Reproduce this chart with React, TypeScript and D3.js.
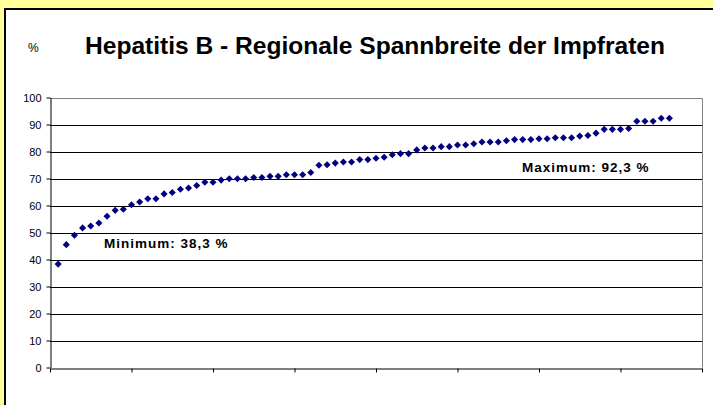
import React, { useEffect, useRef } from 'react';
import * as d3 from 'd3';

// Regional vaccination rates, sorted ascending (one point per region)
const rates = [
  38.3, 45.5, 49.0, 51.7, 52.4, 53.5, 56.0, 58.2, 58.6, 60.3,
  61.3, 62.5, 62.5, 64.3, 64.8, 66.0, 66.5, 67.4, 68.6, 68.6,
  69.4, 69.9, 69.9, 69.9, 70.4, 70.4, 70.8, 70.8, 71.4, 71.4,
  71.4, 72.2, 74.9, 75.1, 75.7, 76.1, 76.1, 77.0, 77.0, 77.5,
  77.9, 78.8, 79.2, 79.2, 80.6, 81.3, 81.3, 81.8, 81.8, 82.4,
  82.4, 82.9, 83.5, 83.5, 83.5, 84.0, 84.4, 84.4, 84.4, 84.7,
  84.7, 85.1, 85.1, 85.1, 85.7, 85.9, 86.8, 88.2, 88.2, 88.2,
  88.5, 91.2, 91.2, 91.2, 92.3, 92.3,
];
const yTicks = [0, 10, 20, 30, 40, 50, 60, 70, 80, 90, 100];
const xTicks = [0, 10, 20, 30, 40, 50, 60, 70, 80];
const title = 'Hepatitis B - Regionale Spannbreite der Impfraten';
const minLabel = 'Minimum: 38,3 %';
const maxLabel = 'Maximum: 92,3 %';

const App = () => {
  const ref = useRef<SVGSVGElement | null>(null);

  useEffect(() => {
    if (!ref.current) return;
    const svg = d3.select(ref.current);
    svg.selectAll('*').remove();

    const width = 713;
    const height = 405;
    const font = 'Arial, "Liberation Sans", sans-serif';

    svg.append('rect').attr('width', width).attr('height', height).attr('fill', '#FFFF99');
    svg.append('rect')
      .attr('x', 5).attr('y', 9).attr('width', 720).attr('height', 410)
      .attr('fill', '#fff').attr('stroke', '#000').attr('stroke-width', 2);

    const x = d3.scaleLinear().domain([0, 80]).range([50, 702]);
    const y = d3.scaleLinear().domain([0, 100]).range([367.5, 97.5]);

    // gridlines
    svg.append('g')
      .selectAll('line')
      .data(yTicks.filter(t => t > 0 && t < 100))
      .join('line')
      .attr('x1', x(0)).attr('x2', x(80))
      .attr('y1', d => Math.round(y(d)) + 0.5).attr('y2', d => Math.round(y(d)) + 0.5)
      .attr('stroke', '#000').attr('stroke-width', 1);

    // frame top/right (gray)
    svg.append('path')
      .attr('d', `M${x(0)},${Math.round(y(100)) + 0.5}H${x(80) + 0.5}V${y(0)}`)
      .attr('fill', 'none').attr('stroke', '#808080').attr('stroke-width', 1);

    // y axis
    const yAxis = svg.append('g')
      .attr('transform', `translate(${x(0) + 0.5},0)`)
      .call(d3.axisLeft(y).tickValues(yTicks).tickSize(4).tickSizeOuter(0).tickPadding(5));
    yAxis.select('.domain').attr('stroke', '#000');
    yAxis.selectAll('line').attr('stroke', '#000');
    yAxis.selectAll('text')
      .attr('font-family', font).attr('font-size', 11).attr('fill', '#000');

    // x axis (no labels)
    const xAxis = svg.append('g')
      .attr('transform', `translate(0,${Math.round(y(0)) + 0.5})`)
      .call(d3.axisBottom(x).tickValues(xTicks).tickSize(4).tickSizeOuter(0).tickFormat(() => ''));
    xAxis.select('.domain').attr('stroke', '#000');
    xAxis.selectAll('line').attr('stroke', '#000');

    // markers
    const diamond = d3.symbol(d3.symbolSquare, 25);
    svg.append('g')
      .selectAll('path')
      .data(rates)
      .join('path')
      .attr('d', diamond)
      .attr('transform', (d, i) => `translate(${x(i + 1)},${y(d)}) rotate(45)`)
      .attr('fill', '#000080');

    // title
    svg.append('text')
      .attr('x', 85).attr('y', 54)
      .attr('font-family', font).attr('font-weight', 'bold').attr('font-size', 24)
      .attr('textLength', 580).attr('lengthAdjust', 'spacingAndGlyphs')
      .attr('fill', '#000')
      .text(title);

    svg.append('text')
      .attr('x', 28).attr('y', 52)
      .attr('font-family', font).attr('font-size', 12)
      .attr('fill', '#000')
      .text('%');

    // annotations
    svg.append('text')
      .attr('x', 104).attr('y', 248)
      .attr('font-family', font).attr('font-weight', 'bold').attr('font-size', 13.5)
      .attr('letter-spacing', 1)
      .attr('fill', '#000')
      .text(minLabel);

    svg.append('text')
      .attr('x', 522).attr('y', 172)
      .attr('font-family', font).attr('font-weight', 'bold').attr('font-size', 13.5)
      .attr('letter-spacing', 1)
      .attr('fill', '#000')
      .text(maxLabel);
  }, []);

  return (
    <svg
      ref={ref}
      width={713}
      height={405}
      style={{ position: 'absolute', left: 0, top: 0, display: 'block' }}
    />
  );
};

export default App;
